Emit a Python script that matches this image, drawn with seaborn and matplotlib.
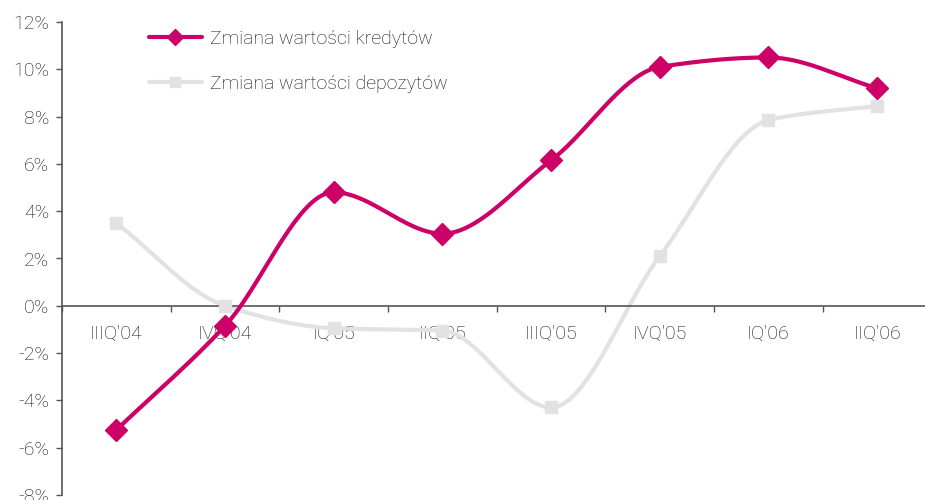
import numpy as np
import pandas as pd
import matplotlib
matplotlib.use("Agg")
import matplotlib.pyplot as plt
from matplotlib.ticker import FuncFormatter, FixedLocator
from matplotlib.lines import Line2D
import seaborn as sns

# === dane ===
quarters = ["IIIQ'04", "IVQ'04", "IQ'05", "IIQ'05", "IIIQ'05", "IVQ'05", "IQ'06", "IIQ'06"]
kredyty = [-5.25, -0.85, 4.8, 3.05, 6.15, 10.1, 10.5, 9.2]
depozyty = [3.5, 0.0, -0.95, -1.05, -4.3, 2.1, 7.85, 8.45]

label_kred = "Zmiana wartości kredytów"
label_depo = "Zmiana wartości depozytów"

MAGENTA = "#CC0066"
GRAY = "#E2E2E2"
TXT = "#111111"


def smooth(xs, ys, n=40):
    # monotoniczna krzywa Hermite'a (PCHIP) tylko do rysowania linii między punktami
    x = np.asarray(xs, float)
    y = np.asarray(ys, float)
    h = np.diff(x)
    d = np.diff(y) / h
    m = np.zeros_like(y)
    for i in range(1, len(y) - 1):
        if d[i - 1] * d[i] > 0:
            w1 = 2 * h[i] + h[i - 1]
            w2 = h[i] + 2 * h[i - 1]
            m[i] = (w1 + w2) / (w1 / d[i - 1] + w2 / d[i])
    m[0] = d[0]
    m[-1] = d[-1]
    outx, outy = [], []
    for i in range(len(x) - 1):
        t = np.linspace(0, 1, n)
        if i > 0:
            t = t[1:]
        h00 = 2 * t**3 - 3 * t**2 + 1
        h10 = t**3 - 2 * t**2 + t
        h01 = -2 * t**3 + 3 * t**2
        h11 = t**3 - t**2
        outx.append(x[i] + t * h[i])
        outy.append(h00 * y[i] + h10 * h[i] * m[i] + h01 * y[i + 1] + h11 * h[i] * m[i + 1])
    return np.concatenate(outx), np.concatenate(outy)


sns.set_style("white")
plt.rcParams["font.family"] = ["Roboto", "DejaVu Sans"]
plt.rcParams["font.weight"] = "light"

fig = plt.figure(figsize=(9.25, 5), dpi=100)
ax = fig.add_axes([0.067, 0.01, 0.94, 0.946])

idx = np.arange(len(quarters))
df = pd.DataFrame({"q": idx, "kredyty": kredyty, "depozyty": depozyty})

sx, sy = smooth(df["q"], df["depozyty"])
sns.lineplot(x=sx, y=sy, ax=ax, color=GRAY, lw=3, sort=False, zorder=2)
ax.plot(df["q"], df["depozyty"], ls="none", marker="s", ms=8.6, color=GRAY, zorder=3)

sx, sy = smooth(df["q"], df["kredyty"])
sns.lineplot(x=sx, y=sy, ax=ax, color=MAGENTA, lw=3, sort=False, zorder=4)
ax.plot(df["q"], df["kredyty"], ls="none", marker="D", ms=11, color=MAGENTA, zorder=5)

ax.set_ylim(-8, 12)
ax.set_xlim(-0.5, 7.5)
ax.set_yticks(np.arange(-8, 13, 2))
ax.yaxis.set_major_formatter(FuncFormatter(lambda v, p: f"{v:.0f}%"))

# os X na poziomie 0%
ax.spines["bottom"].set_position(("data", 0))
for s in ["top", "right"]:
    ax.spines[s].set_visible(False)
for s in ["left", "bottom"]:
    ax.spines[s].set_color("#555555")
    ax.spines[s].set_linewidth(1.2)

ax.xaxis.set_major_locator(FixedLocator(idx))
ax.set_xticklabels(quarters)
ax.xaxis.set_minor_locator(FixedLocator(np.arange(-0.5, 8, 1)))
ax.tick_params(axis="x", which="major", length=0, pad=14, labelsize=14, labelcolor=TXT)
ax.tick_params(axis="x", which="minor", length=4, width=1, color="#555555", direction="out", bottom=True)
ax.tick_params(axis="y", length=4, width=1, color="#555555", direction="out", left=True,
               labelsize=14, labelcolor=TXT, pad=5)
ax.set_xlabel("")
ax.set_ylabel("")
ax.grid(False)

handles = [
    Line2D([], [], color=MAGENTA, lw=3, marker="D", ms=8),
    Line2D([], [], color=GRAY, lw=3, marker="s", ms=7),
]
ax.legend(handles, [label_kred, label_depo], loc="upper left", bbox_to_anchor=(0.08, 1.02),
          frameon=False, fontsize=14, labelspacing=1.4, handlelength=2.7, handletextpad=0.45,
          labelcolor=TXT)

plt.savefig("out.png", dpi=100)
